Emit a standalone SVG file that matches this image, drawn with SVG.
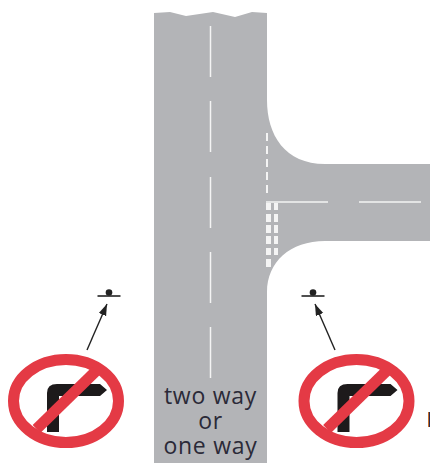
<svg xmlns="http://www.w3.org/2000/svg" width="430" height="463" viewBox="0 0 430 463">
<style>
.road{fill:#b3b4b7}
.mark{stroke:#f4f4f4;stroke-width:1.5;fill:none}
.dash{stroke:#f4f4f4;stroke-width:2;fill:none;stroke-dasharray:8 5}
.blk{fill:#f4f4f4}
.ring{fill:none;stroke:#e43a45;stroke-width:11}
.bar{stroke:#e43a45;stroke-width:11;fill:none}
.turn{fill:#1d1a1b}
.line{stroke:#222;stroke-width:1.4;fill:none}
.sym{stroke:#222;stroke-width:1.6;fill:none}
.lbl{font-family:"Open Sans",sans-serif;font-size:23px;letter-spacing:.75px;fill:#2b2a38;text-anchor:middle}
</style>
<defs>
<marker id="ah" markerUnits="userSpaceOnUse" markerWidth="13" markerHeight="10" refX="11.500" refY="4" orient="auto"><path d="M0 0L11.500 4L0 8Z" fill="#222"/></marker>
<g id="noRight">
<ellipse class="ring" cx="0" cy="0" rx="52.5" ry="41.5"/>
<path class="turn" d="M-19 31V-8Q-19 -17 -9 -17H34L41 -11L34 -5H-7V31Z"/>
<path class="bar" d="M-29.500 28L30 -30"/>
</g>
</defs>
<g id="road">
<path class="road" d="M154 13L170 12L186 16L213 12L235 17L252 12L267 13V100C267 135 285 164 325 164H430V241H325C290 241 267 262 267 292V463H154Z"/>
<path class="mark" d="M210.500 26V77M210.500 101V152M210.500 177V228M210.500 252V303M210.500 327V378"/>
<path class="dash" d="M267 133V198"/>
<path class="mark" d="M266 202H328M359 202H421"/>
<path class="blk" d="M266 203h5v7h-5zM274 203h4v7h-4zM266 214h5v8h-5zM274 214h4v8h-4zM266 225h5v8h-5zM274 225h4v8h-4zM266 236h5v8h-5zM274 236h4v8h-4zM266 248h5v7h-5zM274 248h4v7h-4zM266 259h5v8h-5z"/>
</g>
<g id="label">
<text class="lbl"><tspan x="210.500" y="404">two way</tspan><tspan x="210.500" y="429">or</tspan><tspan x="210.500" y="454">one way</tspan></text>
</g>
<g id="sign-left"><use href="#noRight" x="66" y="401"/></g>
<g id="sign-right"><use href="#noRight" x="356.500" y="401"/></g>
<g id="observer-left"><path class="sym" d="M97.500 296H120.500"/><circle cx="109" cy="292.500" r="3.300" fill="#222"/></g>
<g id="observer-right"><path class="sym" d="M301.500 296H324.500"/><circle cx="313" cy="292.500" r="3.300" fill="#222"/></g>
<g id="connectors">
<path class="line" d="M87 350L107 304" marker-end="url(#ah)"/>
<path class="line" d="M335 350L315 304" marker-end="url(#ah)"/>
</g>
<path d="M428.500 412V427" stroke="#c8702a" stroke-width="1"/><rect x="429" y="412" width="1" height="15" fill="#2b2a50"/>
</svg>
